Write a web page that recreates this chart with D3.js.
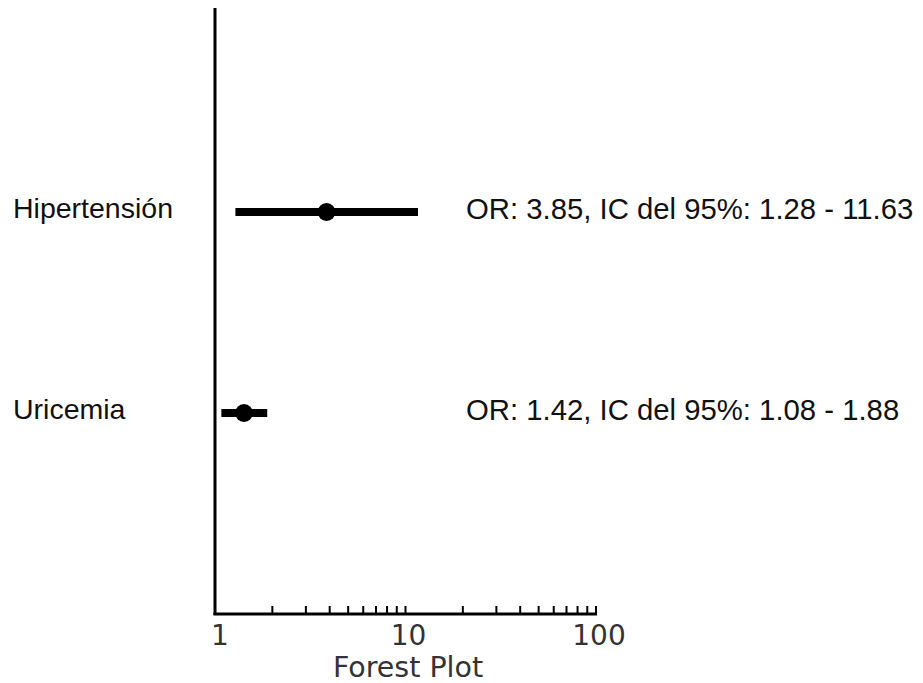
<!DOCTYPE html>
<html><head><meta charset="utf-8">
<script src="https://cdn.jsdelivr.net/npm/d3@7"></script>
<style>body{margin:0;background:#fff}</style>
</head><body><svg id="c" width="923" height="683"></svg>
<script>
const labels = ["Hipertensión", "Uricemia"];
const oddsRatios = [3.85, 1.42];
const ciLower = [1.28, 1.08];
const ciUpper = [11.63, 1.88];
const tickLabels = [1, 10, 100];
const axisTitle = "Forest Plot";

const svg = d3.select("#c");
const x = d3.scaleLog().domain([1, 100]).range([215, 596]);
const y = d3.scalePoint().domain(labels).range([212, 413]);

// axes lines
svg.append("line").attr("x1", 215).attr("x2", 215).attr("y1", 8).attr("y2", 615)
  .attr("stroke", "#000").attr("stroke-width", 3);
svg.append("line").attr("x1", 213.5).attr("x2", 597).attr("y1", 614).attr("y2", 614)
  .attr("stroke", "#000").attr("stroke-width", 3);

// ticks
const minorTicks = [];
for (let d = 1; d < 100; d *= 10) for (let k = 2; k <= 10; k++) minorTicks.push(k * d);
svg.selectAll(".tk").data(minorTicks).enter().append("line")
  .attr("x1", d => x(d)).attr("x2", d => x(d)).attr("y1", 614).attr("y2", 606)
  .attr("stroke", "#000").attr("stroke-width", 2);

svg.selectAll(".tl").data(tickLabels).enter().append("text")
  .attr("x", d => x(d) + (d === 1 ? 5 : 3)).attr("y", 645)
  .attr("text-anchor", "middle").attr("font-family", "DejaVu Sans, Verdana")
  .attr("font-size", 28).attr("fill", "#333").text(d => d);

svg.append("text").attr("x", 408).attr("y", 677).attr("text-anchor", "middle")
  .attr("font-family", "DejaVu Sans, Verdana").attr("font-size", 28.5).attr("fill", "#333")
  .text(axisTitle);

// rows
const rows = labels.map((l, i) => ({l, or: oddsRatios[i], lo: ciLower[i], hi: ciUpper[i]}));
const g = svg.selectAll(".row").data(rows).enter().append("g");
g.append("line").attr("x1", d => x(d.lo)).attr("x2", d => x(d.hi))
  .attr("y1", d => y(d.l)).attr("y2", d => y(d.l)).attr("stroke", "#000").attr("stroke-width", 8);
g.append("circle").attr("cx", d => x(d.or)).attr("cy", d => y(d.l)).attr("r", 9).attr("fill", "#000");
g.append("text").attr("x", 13).attr("y", d => y(d.l) + 6)
  .attr("font-family", "Liberation Sans, Arial, Helvetica").attr("font-size", 28.5).attr("fill", "#111")
  .text(d => d.l);
g.append("text").attr("x", 466).attr("y", d => y(d.l) + 7)
  .attr("font-family", "Liberation Sans, Arial, Helvetica").attr("font-size", 29.3).attr("fill", "#111")
  .text(d => `OR: ${d.or.toFixed(2)}, IC del 95%: ${d.lo.toFixed(2)} - ${d.hi.toFixed(2)}`);
</script></body></html>
